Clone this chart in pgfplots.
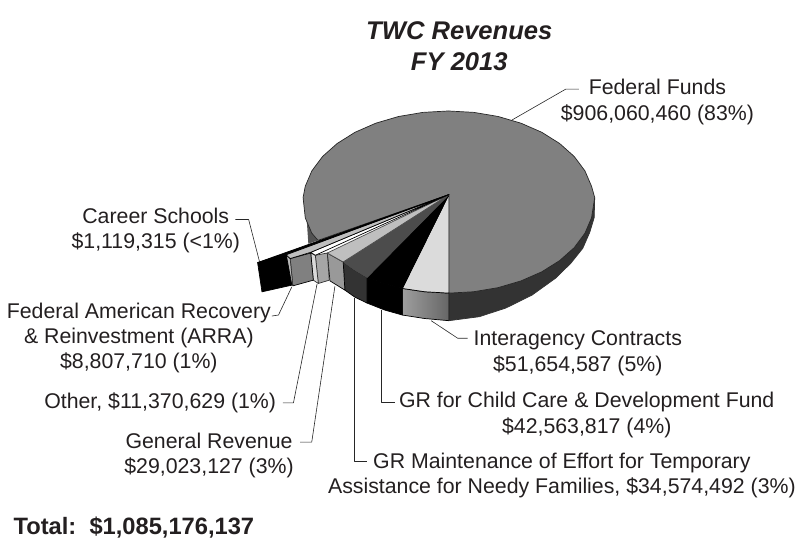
\documentclass[border=0pt]{standalone}
\usepackage{pgfplots}
\usepackage{fontspec}
\setmainfont{Liberation Sans}
\pgfplotsset{compat=1.18}
\definecolor{txt}{HTML}{231F20}
\newcommand{\fs}{\fontsize{21.4}{25.5}\selectfont}
\begin{document}
\begin{tikzpicture}
\begin{axis}[scale only axis,width=799pt,height=539pt,xmin=-1.5,xmax=797.5,ymin=-1.5,ymax=537.5,y dir=reverse,hide axis,clip=false,
  every axis plot/.append style={line width=0.7pt,line join=round}]
\node[inner sep=0pt,minimum size=0pt,outer sep=0pt] at (axis cs:-1.5,-1.5) {};
\node[inner sep=0pt,minimum size=0pt,outer sep=0pt] at (axis cs:797.5,537.5) {};
% Federal side
\addplot[fill=black!80,draw=black!80] coordinates {(449.5,293)(474.4,291.6)(498.9,287.5)(522,280.7)(542.8,271.6)(560.8,260.3)(575.4,247.3)(586.2,232.8)(592.8,217.4)(596,197)(595.5,217)(591,232)(584,248)(572,263)(556.7,278)(533,295)(506.7,308)(480,316.7)(449.5,320.7)} --cycle;
\addplot[fill=black!68,draw=none] coordinates {(303,197)(306.7,220)(308.3,243.5)(318,240)} --cycle;
% Federal top
\addplot[fill=black!50,draw=black!85] coordinates {(449.5,194)(449.5,293)(474.4,291.6)(498.9,287.5)(522,280.7)(542.8,271.6)(560.8,260.3)(575.4,247.3)(586.2,232.8)(592.8,217.4)(596,197)(592.8,185.6)(586.2,170.2)(575.4,155.7)(560.8,142.7)(542.8,131.4)(522,122.3)(498.9,115.5)(474.4,111.4)(449,110)(423.6,111.4)(399.1,115.5)(376,122.3)(355.2,131.4)(337.2,142.7)(322.6,155.7)(311.8,170.2)(305.2,185.6)(303,197)(305.2,217.4)(311.8,232.8)(318,240)} --cycle;
% Interagency
\addplot[left color=black!38,right color=black!60,draw=black] coordinates {(402.7,288.3)(425,291.6)(449.5,293)(449.5,320.7)(425,318.5)(402.7,315)} --cycle;
\addplot[fill=black!14,draw=black] coordinates {(449.5,194)(449.5,293)(425,291.6)(402.7,288.3)} --cycle;
% GR child care
\addplot[fill=black,draw=black] coordinates {(367.3,277.3)(385,283.5)(402.7,288.3)(402.7,315)(385,310)(367.3,303)} --cycle;
\addplot[fill=black,draw=black] coordinates {(449.5,194)(402.7,288.3)(385,283.5)(367.3,277.3)} --cycle;
% GR maintenance
\addplot[fill=black!80,draw=black] coordinates {(343.3,261.7)(355,270)(367.3,277.3)(367.3,303)(355,297)(345,290)} --cycle;
\addplot[fill=black!70,draw=black!70] coordinates {(449.5,194)(367.3,277.3)(355,270)(343.3,261.7)} --cycle;
% General revenue
\addplot[fill=black!40,draw=black] coordinates {(327.3,252.7)(343.3,261.7)(345,290)(330,280.7)} --cycle;
\addplot[fill=black!25,draw=black!70] coordinates {(449.5,194)(343.3,261.7)(327.3,252.7)} --cycle;
% Other
\addplot[fill=black!35,draw=black!80] coordinates {(315.3,255)(327.3,252.7)(329.3,280)(318.3,283.3)} --cycle;
\addplot[fill=black!15,draw=black!80] coordinates {(310.7,252.7)(315.3,255)(318.3,283.3)(313.3,280)} --cycle;
\addplot[fill=white,draw=black] coordinates {(449.5,194)(315.3,255)(310.7,252)} --cycle;
% ARRA
\addplot[fill=black!50,draw=black] coordinates {(290,258.3)(310.7,252.7)(313.3,280)(292.7,285.7)} --cycle;
\addplot[fill=black!28,draw=black!80] coordinates {(286,255)(290,258.3)(292.7,285.7)(288.3,277)} --cycle;
\addplot[fill=black!25,draw=black] coordinates {(449.5,194)(286,254.5)(290,258.3)(310.7,252)} --cycle;
% Career Schools
\addplot[fill=black,draw=black] coordinates {(257.3,262.3)(286,254)(291.7,285)(261.7,291.7)} --cycle;
\addplot[fill=black,draw=black] coordinates {(449.5,194)(257.3,262.3)(286,254)} --cycle;
% Leaders
\addplot[black!85,line width=0.6pt] coordinates {(513,119)(567,88)(580,88)};
\addplot[black!85,line width=0.6pt] coordinates {(235,219)(248.3,219)(259.3,261.7)};
\addplot[black!85,line width=0.6pt] coordinates {(291.7,286.7)(278.3,315)(271.7,316)};
\addplot[black!85,line width=0.6pt] coordinates {(317,284)(293.3,403.3)(282.7,403.3)};
\addplot[black!85,line width=0.6pt] coordinates {(335,286)(311.7,442.7)(300,442.7)};
\addplot[black!85,line width=0.6pt] coordinates {(354,298)(354,461.7)(367.3,461.7)};
\addplot[black!85,line width=0.6pt] coordinates {(381.7,310)(381.7,402.3)(395,402.3)};
\addplot[black!85,line width=0.6pt] coordinates {(431.7,320.7)(458.3,338.3)(468.3,338.3)};
% Text
\node[align=center,text=txt,font=\fontsize{25.7}{31}\selectfont\bfseries\itshape] at (axis cs:460,45) {TWC Revenues\\FY 2013};
\node[align=center,text=txt,font=\fs] at (axis cs:659,101) {Federal Funds\\\$906,060,460 (83\%)};
\node[align=center,text=txt,font=\fs] at (axis cs:155,230) {Career Schools\\\$1,119,315 (<1\%)};
\node[align=center,text=txt,font=\fs] at (axis cs:138,338) {Federal American Recovery\\\& Reinvestment (ARRA)\\\$8,807,710 (1\%)};
\node[anchor=east,inner sep=0pt,text=txt,font=\fs] at (axis cs:276,403.5) {Other, \$11,370,629 (1\%)};
\node[align=center,text=txt,font=\fs] at (axis cs:208.5,456) {General Revenue\\\$29,023,127 (3\%)};
\node[align=center,text=txt,font=\fs] at (axis cs:563,476.5) {GR Maintenance of Effort for Temporary\\Assistance for Needy Families, \$34,574,492 (3\%)};
\node[align=center,text=txt,font=\fs] at (axis cs:588,415.5) {GR for Child Care \& Development Fund\\\$42,563,817 (4\%)};
\node[align=center,text=txt,font=\fs] at (axis cs:579,353.5) {Interagency Contracts\\\$51,654,587 (5\%)};
\node[anchor=west,inner sep=0pt,text=txt,font=\fontsize{23.8}{27}\selectfont\bfseries] at (axis cs:12,528.5) {Total:\ \ \$1,085,176,137};
\end{axis}
\end{tikzpicture}
\end{document}
